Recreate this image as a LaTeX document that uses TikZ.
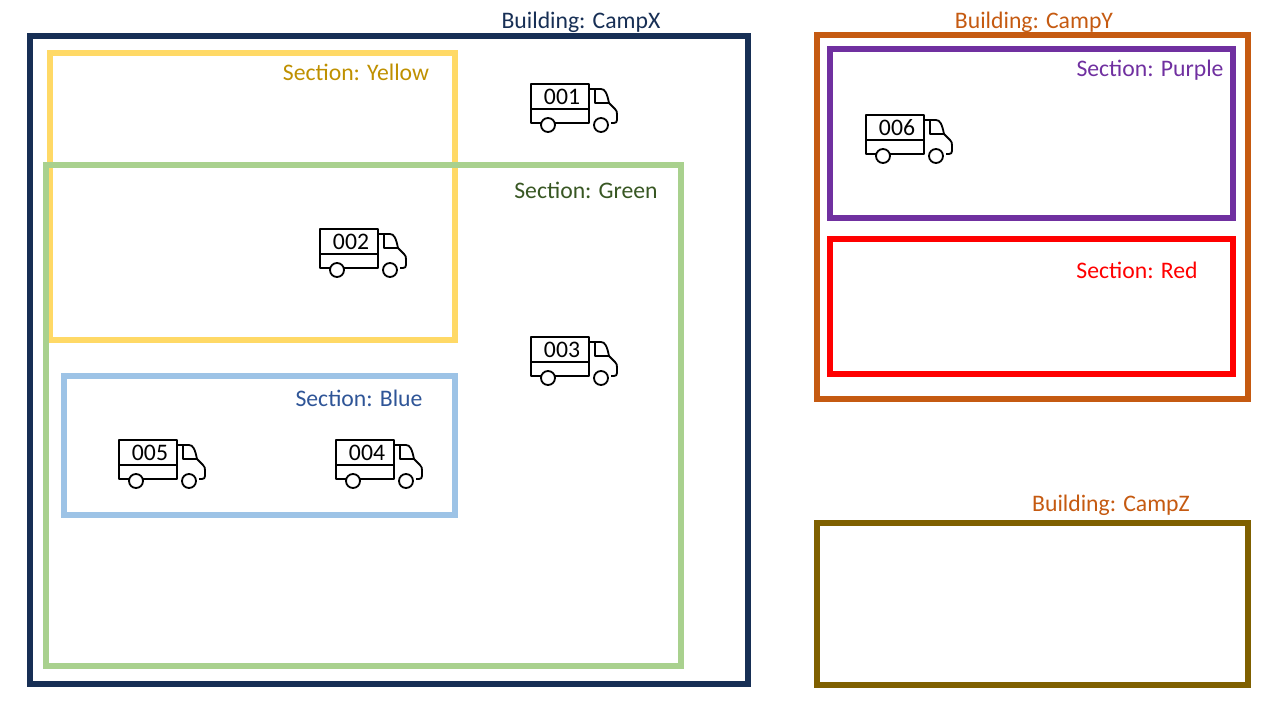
\documentclass[tikz,border=0pt]{standalone}
\usepackage{fontspec}
\setmainfont{Carlito}
\definecolor{campx}{HTML}{172F55}
\definecolor{campy}{HTML}{C55A11}
\definecolor{campz}{HTML}{7F6000}
\definecolor{gelb}{HTML}{FFD966}
\definecolor{gelbtext}{HTML}{BF9000}
\definecolor{gruen}{HTML}{A9D18E}
\definecolor{gruentext}{HTML}{385723}
\definecolor{blau}{HTML}{9DC3E6}
\definecolor{blautext}{HTML}{2F5597}
\definecolor{lila}{HTML}{7030A0}
\tikzset{
    halle/.style={line width=6pt, miter limit=10},
    schild/.style={inner sep=0pt, font=\fontsize{23.7}{28}\selectfont},
    laster/.style={line width=1.8pt, line join=round}
}
\begin{document}
\begin{tikzpicture}[x=1pt, y=-1pt]
    \useasboundingbox (0,0) rectangle (1280,720);

    % Gebaeude
    \draw[halle, campx] (30,36) rectangle (748,684);
    \draw[halle, campy] (817,35) rectangle (1248,399);
    \draw[halle, campz] (817,523) rectangle (1248,685);

    % Abschnitte
    \draw[halle, gelb] (50,53) rectangle (455,340);
    \draw[halle, gruen] (46,165) rectangle (681,666);
    \draw[halle, blau] (64,376) rectangle (455,515);
    \draw[halle, lila] (830,49) rectangle (1233,218);
    \draw[halle, red] (830,239) rectangle (1233,374);

    % Beschriftung
    \node[schild, text=campx] (campxtext) at (581,22) {Building: CampX};
    \node[schild, text=campy] (campytext) at (1034,22) {Building: CampY};
    \node[schild, text=campy] (campztext) at (1111,505) {Building: CampZ};
    \node[schild, text=gelbtext] (gelbschild) at (356,72) {Section: Yellow};
    \node[schild, text=gruentext] (gruenschild) at (586,190) {Section: Green};
    \node[schild, text=blautext] (blauschild) at (359,398) {Section: Blue};
    \node[schild, text=lila] (lilaschild) at (1150,70) {Section: Purple};
    \node[schild, text=red] (rotschild) at (1137,270) {Section: Red};

    % Laster
    \foreach \nummer/\xpos/\ypos in {001/531/84, 002/320/229, 003/531/337, 004/336/440, 005/119/440, 006/866/115}
    {
        \begin{scope}[shift={(\xpos,\ypos)}, laster]
            \draw (0,0) rectangle (58,25);
            \draw (10,39) -- (0,39) -- (0,25);
            \draw (24,39) -- (58,39) -- (58,25);
            \draw (58,5) -- (70,5) .. controls (74,5) and (76,9) .. (78,19) -- (84,25) .. controls (86,27) and (86,28) .. (86,31) -- (86,36) .. controls (86,38) and (85,39) .. (83,39) -- (80,39);
            \draw (64,5) -- (64,19) -- (78,19);
            \draw (17,41) circle[radius=7];
            \draw (70,41) circle[radius=7];
            \node[schild] (laster\nummer) at (31,13) {\nummer};
        \end{scope}
    }
\end{tikzpicture}
\end{document}
